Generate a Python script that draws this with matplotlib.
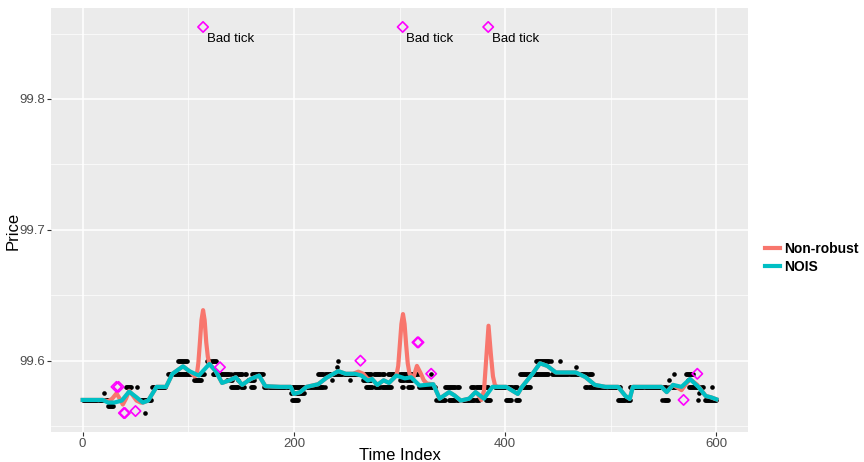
import numpy as np
import matplotlib
matplotlib.use("Agg")
import matplotlib.pyplot as plt
from matplotlib.lines import Line2D

plt.rcParams['font.family'] = ['Liberation Sans', 'DejaVu Sans']

# observed ticks: runs of (first index, last index, price)
dot_runs = [
    (0, 25, 99.570), (20, 20, 99.575), (24, 29, 99.565), (41, 46, 99.580),
    (51, 51, 99.580), (52, 65, 99.570), (59, 59, 99.560), (66, 78, 99.580),
    (81, 115, 99.590), (90, 99, 99.600), (105, 112, 99.585), (118, 126, 99.600),
    (123, 140, 99.590), (143, 151, 99.590), (154, 155, 99.590), (160, 171, 99.590),
    (137, 141, 99.585), (147, 147, 99.585), (157, 162, 99.585), (140, 147, 99.580),
    (150, 153, 99.580), (159, 162, 99.580), (172, 229, 99.580), (197, 210, 99.575),
    (198, 204, 99.570), (223, 273, 99.590), (241, 241, 99.595), (242, 242, 99.600),
    (236, 236, 99.585), (253, 253, 99.585), (265, 273, 99.585), (276, 285, 99.590),
    (289, 318, 99.590), (268, 274, 99.580), (277, 292, 99.580), (300, 304, 99.585),
    (306, 312, 99.585), (302, 303, 99.580), (308, 312, 99.580), (318, 334, 99.580),
    (330, 330, 99.590), (343, 356, 99.580), (335, 343, 99.570), (347, 355, 99.570),
    (360, 375, 99.570), (368, 384, 99.580), (382, 386, 99.570), (390, 411, 99.580),
    (401, 406, 99.570), (410, 413, 99.570), (416, 424, 99.580), (414, 441, 99.590),
    (444, 482, 99.590), (429, 443, 99.600), (452, 452, 99.600), (467, 467, 99.595),
    (476, 509, 99.580), (507, 518, 99.570), (518, 552, 99.580), (549, 554, 99.570),
    (555, 555, 99.585), (560, 560, 99.590), (555, 565, 99.580), (571, 578, 99.590),
    (573, 573, 99.585), (574, 587, 99.580), (584, 584, 99.575), (583, 583, 99.570),
    (589, 600, 99.570), (596, 596, 99.580),
]

# NOIS filtered price
nois_t = [0, 19, 24, 30, 37, 44, 51, 57, 62, 70, 79, 85, 95, 101, 110, 120, 126,
          132, 139, 145, 151, 159, 167, 173, 187, 197, 200, 206, 212, 223, 231,
          242, 249, 258, 264, 270, 274, 279, 285, 290, 297, 305, 311, 319, 325,
          332, 338, 347, 352, 358, 366, 372, 380, 388, 401, 407, 412, 416, 420,
          426, 433, 440, 448, 467, 476, 485, 495, 507, 514, 518, 521, 548, 553,
          559, 567, 575, 583, 590, 595, 600]
nois_p = [99.570, 99.570, 99.568, 99.568, 99.5695, 99.5764, 99.572, 99.568,
          99.5695, 99.580, 99.580, 99.590, 99.5957, 99.592, 99.5886, 99.5975,
          99.592, 99.583, 99.585, 99.5873, 99.5815, 99.586, 99.5886, 99.5805,
          99.580, 99.580, 99.5746, 99.576, 99.580, 99.582, 99.587, 99.592, 99.590,
          99.590, 99.5886, 99.5848, 99.586, 99.5815, 99.585, 99.583, 99.5886,
          99.5865, 99.5873, 99.581, 99.5815, 99.582, 99.571, 99.576, 99.5735,
          99.5695, 99.571, 99.576, 99.571, 99.580, 99.580, 99.577, 99.5746,
          99.580, 99.584, 99.590, 99.598, 99.596, 99.591, 99.591, 99.5875,
          99.5815, 99.580, 99.580, 99.573, 99.5708, 99.580, 99.580, 99.576,
          99.5815, 99.580, 99.586, 99.580, 99.573, 99.572, 99.5705]

# non-robust filtered price
nonrob_t = [0, 19, 24, 28, 32, 35, 38, 41, 44, 47, 51, 55, 57, 62, 70, 79, 85,
            95, 101, 106, 108, 109.5, 111, 112.5, 114, 115.5, 117, 118.5, 120,
            126, 132, 139, 145, 151, 159, 167, 173, 187, 197, 200, 206, 212, 223,
            231, 242, 249, 256, 261, 265.7, 270, 274, 279, 285, 290, 297, 298.8,
            300.3, 301.8, 303.3, 304.8, 306.3, 307.8, 309.5, 312.8, 316.5, 320,
            323, 326, 332, 338, 347, 352, 358, 366, 372, 374, 377.5, 380, 382,
            384.3, 386.5, 388.5, 390.5, 393, 401, 407, 412, 416, 420, 426, 433,
            440, 448, 467, 476, 485, 495, 507, 514, 518, 521, 548, 553, 559, 567,
            575, 582, 590, 595, 600]
nonrob_p = [99.570, 99.570, 99.569, 99.571, 99.575, 99.571, 99.5665, 99.571,
            99.577, 99.574, 99.5695, 99.568, 99.568, 99.5695, 99.580, 99.580,
            99.590, 99.5957, 99.592, 99.588, 99.589, 99.598, 99.614, 99.631,
            99.6386, 99.631, 99.614, 99.603, 99.5975, 99.592, 99.583, 99.585,
            99.5873, 99.5815, 99.586, 99.5886, 99.5805, 99.580, 99.580, 99.5746,
            99.576, 99.580, 99.582, 99.587, 99.592, 99.590, 99.590, 99.5916,
            99.590, 99.586, 99.586, 99.5815, 99.585, 99.583, 99.5886, 99.596,
            99.612, 99.628, 99.6356, 99.628, 99.612, 99.598, 99.590, 99.586,
            99.596, 99.5905, 99.585, 99.5825, 99.582, 99.571, 99.576, 99.5735,
            99.5695, 99.571, 99.576, 99.5746, 99.570, 99.577, 99.600, 99.6267,
            99.605, 99.588, 99.581, 99.580, 99.580, 99.577, 99.5746, 99.580,
            99.584, 99.590, 99.598, 99.596, 99.591, 99.591, 99.5875, 99.5815,
            99.580, 99.580, 99.573, 99.5708, 99.580, 99.580, 99.576, 99.5815,
            99.5775, 99.586, 99.5815, 99.573, 99.572, 99.5705]

# flagged outliers
outlier_t = [32, 34, 39, 40, 50, 130, 263, 317, 318, 330, 569, 582, 114, 303, 384]
outlier_p = [99.580, 99.580, 99.560, 99.560, 99.5615, 99.595, 99.600, 99.614,
             99.614, 99.590, 99.570, 99.590, 99.855, 99.855, 99.855]
bad_t = [114, 303, 384]
bad_p = [99.855, 99.855, 99.855]

dot_t = np.concatenate([np.arange(a, b + 1) for a, b, _ in dot_runs])
dot_p = np.concatenate([np.full(b - a + 1, p) for a, b, p in dot_runs])

red = '#F8766D'
teal = '#00BFC4'

fig = plt.figure(figsize=(8.64, 4.62), dpi=100)
ax = fig.add_axes([51 / 864, 30 / 462, 697 / 864, 424 / 462])
ax.set_facecolor('#EBEBEB')

ax.scatter(dot_t, dot_p, s=11, color='black', linewidths=0, zorder=3)
ax.plot(nonrob_t, nonrob_p, color=red, lw=3.0, solid_joinstyle='round', zorder=4)
ax.plot(nois_t, nois_p, color=teal, lw=3.0, solid_joinstyle='round', zorder=5)
ax.scatter(outlier_t, outlier_p, s=28, marker='D', facecolors='none',
           edgecolors='#FF00FF', linewidths=1.2, zorder=6)
for t, p in zip(bad_t, bad_p):
    ax.text(t + 3.5, p - 0.0045, 'Bad tick', fontsize=9.5, color='black',
            ha='left', va='top', zorder=7)

ax.set_xlim(-30, 630)
ax.set_ylim(99.5455, 99.8695)
ax.set_xticks([0, 200, 400, 600])
ax.set_xticks([100, 300, 500], minor=True)
ax.set_yticks([99.6, 99.7, 99.8])
ax.set_yticklabels(['99.6', '99.7', '99.8'])
ax.set_yticks([99.55, 99.65, 99.75, 99.85], minor=True)
ax.grid(True, which='major', color='white', lw=1.1)
ax.grid(True, which='minor', color='white', lw=0.5)
ax.set_axisbelow(True)
for s in ax.spines.values():
    s.set_visible(False)
ax.tick_params(which='major', length=3, width=0.8, color='#333333',
               labelsize=9.5, labelcolor='#4D4D4D', pad=1.5)
ax.tick_params(which='minor', length=0)

# axis titles placed directly
fig.text(400 / 864, 1 - 455 / 462, 'Time Index', fontsize=12,
         ha='center', va='center')
fig.text(13 / 864, 1 - 231 / 462, 'Price', fontsize=12, rotation=90,
         ha='center', va='center')

handles = [Line2D([], [], color=red, lw=3.0), Line2D([], [], color=teal, lw=3.0)]
leg = fig.legend(handles, ['Non-robust', 'NOIS'], loc='center left',
                 bbox_to_anchor=(752 / 864, 204 / 462), frameon=False,
                 handlelength=1.1, handletextpad=0.3, labelspacing=0.25,
                 prop={'weight': 'bold', 'size': 10})

fig.savefig('out.png', dpi=100)
